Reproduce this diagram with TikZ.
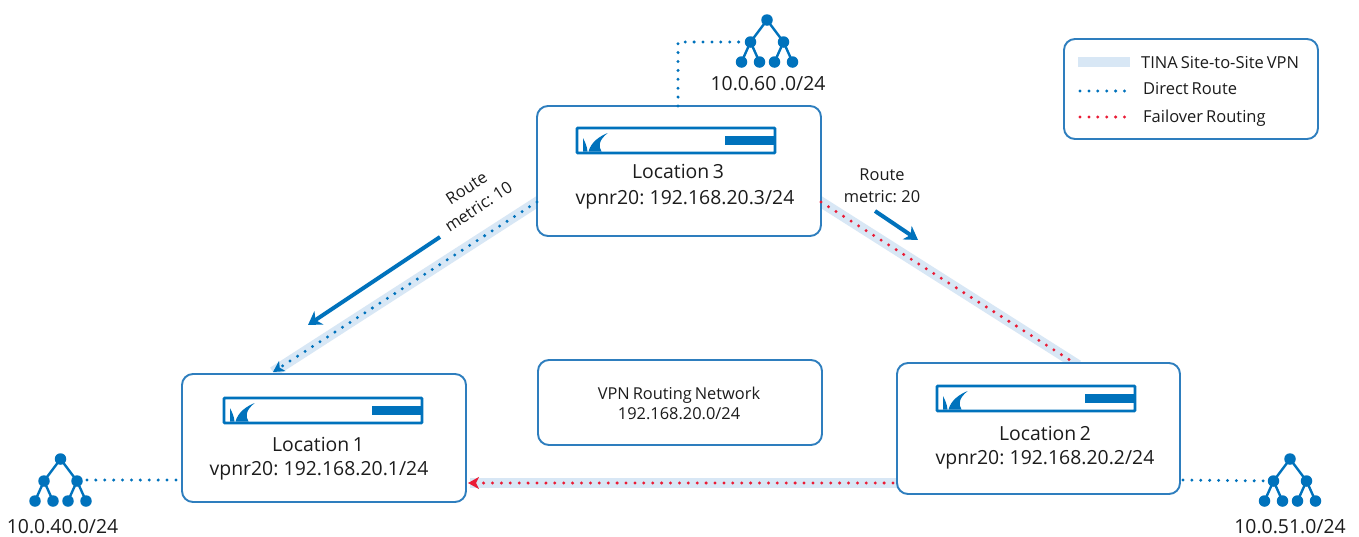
\documentclass[tikz,border=0pt]{standalone}
\usepackage{fontspec}
\setmainfont[WordSpace=0.7]{Open Sans}
\usetikzlibrary{arrows.meta,calc}
\definecolor{bcblue}{HTML}{0072BC}
\definecolor{boxblue}{HTML}{2E7EBE}
\definecolor{bandblue}{HTML}{D8E7F5}
\definecolor{failred}{HTML}{EA1B35}
\definecolor{ink}{HTML}{1C1C1C}
\tikzset{
  x=1pt,y=-1pt,
  boxnode/.style={draw=boxblue,line width=1.9pt,fill=white,rounded corners=11pt,outer sep=0pt,inner sep=0pt,anchor=north west},
  band/.style={draw=bandblue,line width=10.5pt},
  dotroute/.style={draw=bcblue,line width=3.3pt,line cap=round,dash pattern=on 0pt off 8.9pt},
  failroute/.style={dotroute,draw=failred},
  dottip/.style={-{Stealth[length=11pt,width=12pt,inset=3pt]}},
  metricarrow/.style={draw=bcblue,line width=4pt,-{Stealth[length=13pt,width=16pt,inset=4pt]}},
  lab/.style={text=ink,font=\fontsize{19.4pt}{22pt}\selectfont,inner sep=0pt},
  small/.style={text=ink,font=\fontsize{16.4pt}{22pt}\selectfont,inner sep=0pt,align=center},
  leg/.style={small,font=\fontsize{16.5pt}{18pt}\selectfont,anchor=west},
  leaf/.style={circle,fill=bcblue,inner sep=0pt,minimum size=11.5pt},
  treeline/.style={draw=bcblue,line width=2.4pt},
}
% tree icon: name, root position
\newcommand{\treeicon}[3]{%
  \node[leaf] (#1r) at (#2,#3) {};
  \node[leaf] (#1a) at (#2-16.5,#3+22) {};
  \node[leaf] (#1b) at (#2+16.5,#3+22) {};
  \node[leaf] (#1c) at (#2-25.5,#3+42) {};
  \node[leaf] (#1d) at (#2-7.5,#3+42) {};
  \node[leaf] (#1e) at (#2+7.5,#3+42) {};
  \node[leaf] (#1f) at (#2+25.5,#3+42) {};
  \draw[treeline] (#1a.center)--(#1r.center)--(#1b.center);
  \draw[treeline] (#1c.center)--(#1a.center)--(#1d.center);
  \draw[treeline] (#1e.center)--(#1b.center)--(#1f.center);
}
% appliance icon: top left corner
\newcommand{\appliance}[2]{%
  \begin{scope}[shift={(#1,#2)}]
    \draw[draw=bcblue,line width=2.8pt,fill=white,rounded corners=0.8pt] (1,1) rectangle (199,26);
    \fill[bcblue] (149,9) rectangle (199,18);
    \fill[bcblue] (31.7,6) .. controls (24,9) and (15,15) .. (12.5,24.5)
      -- (25.5,24.5) .. controls (22,19) and (23,13) .. cycle;
    \fill[bcblue] (7,11) .. controls (9,15) and (11,19) .. (11.5,24.5) -- (7,24.5) -- cycle;
  \end{scope}
}
\begin{document}
\begin{tikzpicture}
\useasboundingbox (0,0) rectangle (1359,536);
\fill[white] (0,0) rectangle (1359,536);

% VPN bands run underneath the boxes
\coordinate (b3w) at (537,202);
\coordinate (b1n) at (273,372);
\coordinate (b3e) at (821,202);
\coordinate (b2n) at (1073,362);
\coordinate (b2w) at (897,483);
\coordinate (b1e) at (470,483);
\draw[band,shorten <=-6pt] (b3w) -- (b1n);
\draw[band,shorten <=-6pt,shorten >=-6pt] (b3e) -- (b2n);
\draw[band,shorten <=-6pt] (b2w) -- (b1e);

% boxes
\node[boxnode,minimum width=284pt,minimum height=130pt] (loc3) at (537,106) {};
\node[boxnode,minimum width=284pt,minimum height=128pt] (loc1) at (182,374) {};
\node[boxnode,minimum width=283pt,minimum height=131pt] (loc2) at (897,363) {};
\node[boxnode,minimum width=284pt,minimum height=85pt] (vpn) at (538,360) {};
\node[boxnode,minimum width=254pt,minimum height=100pt] (legend) at (1064,39) {};

% routes over the bands
\draw[dotroute,dottip] (loc3.west |- b3w) -- (b1n);
\draw[failroute] (loc3.east |- b3e) -- ($(b2n)+(-2,-1.3)$);
\draw[failroute,dottip] (loc2.west |- b2w) ++(-4,0) -- ($(loc1.east |- b1e)+(2,0)$);

\appliance{576}{127}
\appliance{223}{397}
\appliance{936}{385}

% box texts
\node[lab] (t3a) at (678,171.5) {Location 3};
\node[lab] (t3b) at (685,199.5) {vpnr20: 192.168.20.3/24};
\node[lab] (t1a) at (318,444) {Location 1};
\node[lab] (t1b) at (319,471) {vpnr20: 192.168.20.1/24};
\node[lab] (t2a) at (1045,433) {Location 2};
\node[lab] (t2b) at (1045,460) {vpnr20: 192.168.20.2/24};
\node[small] (tv) at (679,403) {VPN Routing Network\\[-2pt]192.168.20.0/24};

% trees
\treeicon{tt}{767}{20}
\treeicon{tl}{60.5}{459}
\treeicon{tr}{1290}{459}
\node[lab] (nt) at (768,84) {10.0.60 .0/24};
\node[lab] (nl) at (62.5,527) {10.0.40.0/24};
\node[lab] (nr) at (1290,527) {10.0.51.0/24};

% LAN links
\draw[dotroute] (loc3.north -| 678,0) |- (tta.west);
\draw[dotroute] (tlb.east) ++(4,-1) -- (loc1.west |- 0,480);
\draw[dotroute] (loc2.east |- 0,480) ++(3,0) -- (tra.west);

% metric arrows
\coordinate (m1s) at (440,237);
\coordinate (m1e) at (308,325);
\coordinate (m2s) at (875,211);
\coordinate (m2e) at (918,240);
\draw[metricarrow] (m1s) -- (m1e);
\draw[metricarrow] (m2s) -- (m2e);
\node[small,rotate=33] (r1) at (472.5,197.5) {Route\\metric: 10};
\node[small] (r2) at (882,186) {Route\\metric: 20};

% legend
\fill[bandblue] (1078,57) rectangle (1130,67);
\coordinate (l1s) at (1080,91);
\coordinate (l1e) at (1130,91);
\coordinate (l2s) at (1080,117);
\coordinate (l2e) at (1130,117);
\draw[dotroute] (l1s) -- (l1e);
\draw[failroute] (l2s) -- (l2e);
\node[leg] (lg1) at (1141,63) {TINA Site-to-Site VPN};
\node[leg] (lg2) at (1143,89) {Direct Route};
\node[leg] (lg3) at (1143,118.5) {Failover Routing};
\end{tikzpicture}
\end{document}
